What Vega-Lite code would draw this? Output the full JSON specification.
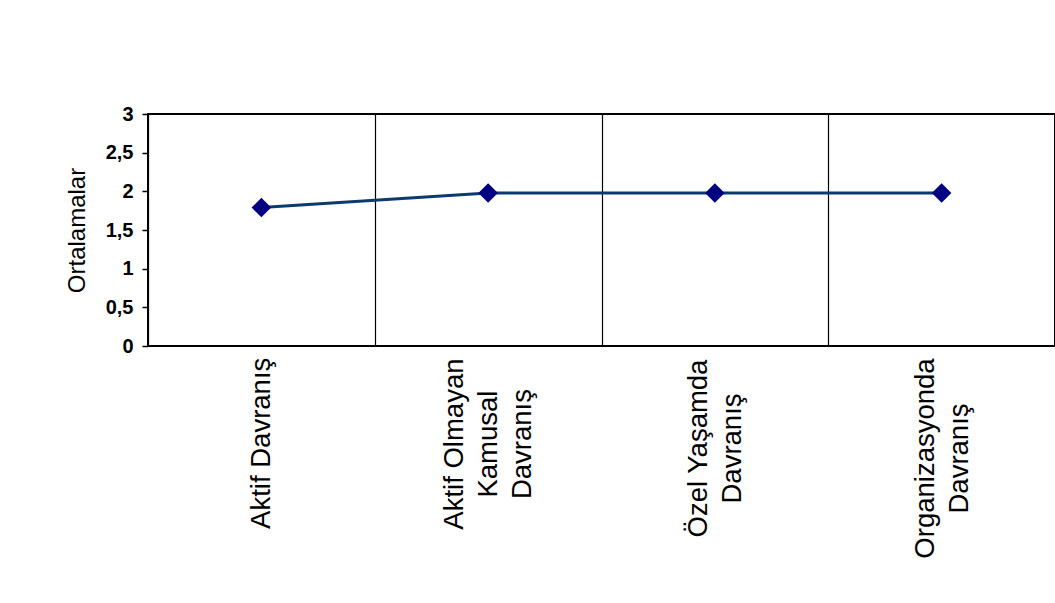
{
  "$schema": "https://vega.github.io/schema/vega-lite/v6.json",
  "autosize": "none",
  "padding": {"left": 148, "top": 114, "right": 0, "bottom": 257},
  "width": 907,
  "height": 232,
  "background": "#ffffff",
  "config": {
    "view": {"stroke": "#000000", "strokeWidth": 2},
    "font": "Liberation Sans"
  },
  "data": {
    "values": [
      {"kategori": "Aktif Davranış", "ortalama": 1.79},
      {"kategori": "Aktif Olmayan Kamusal Davranış", "ortalama": 1.98},
      {"kategori": "Özel Yaşamda Davranış", "ortalama": 1.98},
      {"kategori": "Organizasyonda Davranış", "ortalama": 1.98}
    ]
  },
  "encoding": {
    "x": {
      "field": "kategori",
      "type": "nominal",
      "sort": null,
      "scale": {"paddingInner": 0, "paddingOuter": 0},
      "axis": {
        "title": null,
        "domain": false,
        "ticks": false,
        "tickSize": 0,
        "tickBand": "extent",
        "grid": true,
        "gridColor": "#000000",
        "gridWidth": 1.2,
        "labelAngle": -90,
        "labelAlign": "center",
        "labelBaseline": "middle",
        "labelFont": "Liberation Sans",
        "labelFontSize": 27.5,
        "labelColor": "#000000",
        "labelLineHeight": 34,
        "labelLimit": 0,
        "labelPadding": {
          "condition": [
            {"test": "datum.value == 'Aktif Olmayan Kamusal Davranış'", "value": 97.6},
            {"test": "datum.value == 'Özel Yaşamda Davranış'", "value": 102},
            {"test": "datum.value == 'Organizasyonda Davranış'", "value": 112}
          ],
          "value": 96.8
        },
        "labelOffset": {
          "condition": [
            {"test": "datum.value == 'Aktif Olmayan Kamusal Davranış'", "value": -34},
            {"test": "datum.value == 'Özel Yaşamda Davranış'", "value": -16},
            {"test": "datum.value == 'Organizasyonda Davranış'", "value": -16}
          ],
          "value": 0
        },
        "labelExpr": "datum.value == 'Aktif Olmayan Kamusal Davranış' ? ['Aktif Olmayan', 'Kamusal', 'Davranış'] : datum.value == 'Özel Yaşamda Davranış' ? ['Özel Yaşamda', 'Davranış'] : datum.value == 'Organizasyonda Davranış' ? ['Organizasyonda', 'Davranış'] : datum.value"
      }
    },
    "y": {
      "field": "ortalama",
      "type": "quantitative",
      "scale": {"domain": [0, 3], "nice": false, "zero": true},
      "axis": {
        "title": "Ortalamalar",
        "titleFont": "Liberation Sans",
        "titleFontSize": 24,
        "titleFontWeight": "normal",
        "titleColor": "#000000",
        "titlePadding": 16,
        "values": [0, 0.5, 1, 1.5, 2, 2.5, 3],
        "labelExpr": "replace(format(datum.value, '.1~f'), '.', ',')",
        "labelFont": "Liberation Sans",
        "labelFontSize": 20,
        "labelFontWeight": "bold",
        "labelColor": "#000000",
        "labelPadding": 9,
        "tickSize": 6,
        "tickColor": "#000000",
        "tickWidth": 1.5,
        "domain": false,
        "grid": false
      }
    }
  },
  "layer": [
    {
      "mark": {"type": "line", "color": "#0b3a6e", "strokeWidth": 3}
    },
    {
      "mark": {"type": "point", "shape": "diamond", "filled": true, "size": 380, "color": "#000080", "opacity": 1}
    }
  ]
}
